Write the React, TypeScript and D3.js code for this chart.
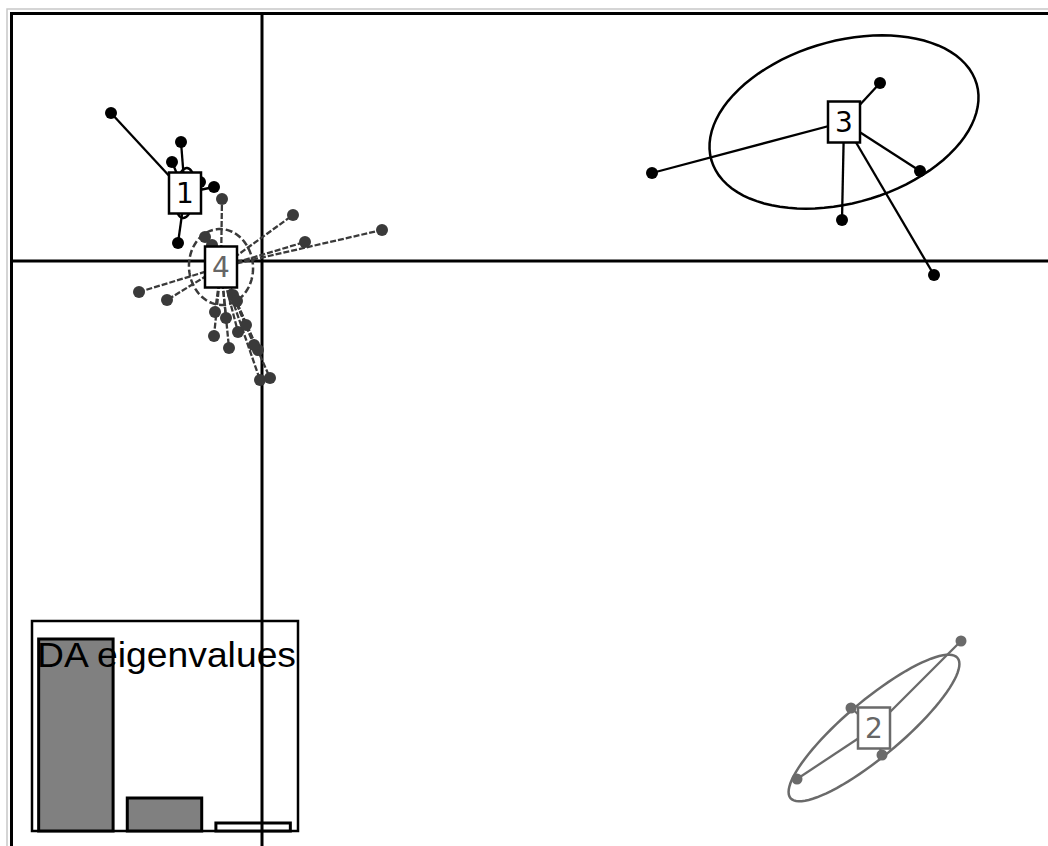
import React from 'react';
import * as d3 from 'd3';

// DAPC scatter: LD1 / LD2 scores per individual, grouped in 4 clusters
const group1 = [
  [-3.02, 2.96], [-1.62, 2.38], [-1.8, 1.98], [-1.68, 0.36],
  [-1.46, 1.48], [-1.24, 1.58], [-0.96, 1.48],
];
const group2 = [
  [13.98, -7.6], [11.78, -8.94], [12.4, -9.88], [10.7, -10.36],
];
const group3 = [
  [12.36, 3.56], [7.8, 1.76], [13.16, 1.8], [11.6, 0.82], [13.44, -0.28],
];
const group4 = [
  [0.62, 0.92], [0.86, 0.38], [2.4, 0.62], [-2.46, -0.62], [-1.9, -0.78],
  [-0.96, -1.5], [-0.66, -1.74], [-0.48, -1.42], [-0.08, -1.78], [-0.04, -2.38],
  [0.16, -2.34], [-0.8, 1.24], [-1.14, 0.48], [-1.0, 0.32], [-0.94, -1.02],
  [-0.72, -1.14], [-0.58, -0.68], [-0.32, -1.28], [-0.16, -1.68], [-0.5, -0.8],
];
const groups = [group1, group2, group3, group4];
const groupNames = ['1', '2', '3', '4'];
// group centroids (label positions)
const centroids = [[-1.54, 1.36], [12.24, -9.34], [11.64, 2.78], [-0.82, -0.12]];
// inertia ellipses: semi-axes (LD units) and angle (degrees)
const ellipseAxes = [[0.5, 0.2], [2.18, 0.56], [2.76, 1.62], [0.64, 0.76]];
const ellipseAngles = [85, 40, 16, 5];
const groupColors = ['#000000', '#6a6a6a', '#000000', '#3a3a3a'];

const eigenvalues = [1024.6, 176.1, 42.7];

const W = 1048;
const H = 846;

const App = () => {
  const x = d3.scaleLinear().domain([-5, 15.7]).range([12, 1047]);
  const y = d3.scaleLinear().domain([5, -12]).range([11, 861]);
  const line = d3.line<number[]>().x((d) => x(d[0])).y((d) => y(d[1]));

  const ellipsePath = (i: number) => {
    const [a, b] = ellipseAxes[i];
    const t = (ellipseAngles[i] * Math.PI) / 180;
    const [cx, cy] = centroids[i];
    const pts = d3.range(0, 361, 4).map((deg) => {
      const u = (deg * Math.PI) / 180;
      const ex = a * Math.cos(u);
      const ey = b * Math.sin(u);
      return [cx + ex * Math.cos(t) - ey * Math.sin(t), cy + ex * Math.sin(t) + ey * Math.cos(t)];
    });
    return line(pts) + 'Z';
  };

  // eigenvalue inset
  const bx = d3.scaleBand<number>().domain(d3.range(eigenvalues.length))
    .range([36, 293]).paddingInner(0.16).paddingOuter(0.03);
  const by = d3.scaleLinear().domain([0, d3.max(eigenvalues)!]).range([831, 639]);

  const order = [3, 0, 2, 1];

  return (
    <div style={{ position: 'absolute', left: 0, top: 0 }}>
      <svg width={W} height={H} style={{ display: 'block', background: '#fff' }}>
        <rect x={7} y={9} width={W} height={H} fill="none" stroke="#c8c8c8" strokeWidth={1.5} />
        <rect x={11.5} y={13.5} width={W} height={H} fill="none" stroke="#000" strokeWidth={3} />

        {/* eigenvalue inset */}
        <g>
          <rect x={32} y={621} width={266} height={210} fill="#fff" stroke="#000" strokeWidth={2.5} />
          {eigenvalues.map((v, i) => (
            <rect key={i} x={bx(i)} y={by(v)} width={bx.bandwidth()} height={831 - by(v)}
              fill={i === eigenvalues.length - 1 ? '#fff' : '#808080'} stroke="#000" strokeWidth={3} />
          ))}
          <text x={37} y={667} fontFamily="Liberation Sans, Arial, sans-serif" fontSize={35}
            textLength={259} lengthAdjust="spacingAndGlyphs" fill="#000">DA eigenvalues</text>
        </g>

        {/* axes through origin */}
        <line x1={x(0)} x2={x(0)} y1={13} y2={H} stroke="#000" strokeWidth={3} />
        <line x1={11} x2={W} y1={y(0)} y2={y(0)} stroke="#000" strokeWidth={3} />

        {order.map((g) => (
          <g key={'e' + g}>
            <path d={ellipsePath(g)} fill="none" stroke={groupColors[g]} strokeWidth={2.5}
              strokeDasharray={g === 3 ? '7,3' : undefined} />
            {groups[g].map((p, j) => (
              <line key={j} x1={x(centroids[g][0])} y1={y(centroids[g][1])} x2={x(p[0])} y2={y(p[1])}
                stroke={groupColors[g]} strokeWidth={2.3} strokeDasharray={g === 3 ? '6,2' : undefined} />
            ))}
            {groups[g].map((p, j) => (
              <circle key={'c' + j} cx={x(p[0])} cy={y(p[1])} r={g === 1 ? 5.5 : 6} fill={groupColors[g]} />
            ))}
          </g>
        ))}

        {order.map((g) => (
          <g key={'l' + g} transform={`translate(${x(centroids[g][0])},${y(centroids[g][1])})`}>
            <rect x={-16} y={-20.5} width={32} height={41} fill="#fff"
              stroke={g === 1 ? '#6a6a6a' : '#000'} strokeWidth={2.5} />
            <text textAnchor="middle" dy="0.36em" fontFamily="DejaVu Sans, sans-serif" fontSize={28}
              fill={g === 1 || g === 3 ? '#666' : '#000'}>{groupNames[g]}</text>
          </g>
        ))}
      </svg>
    </div>
  );
};

export default App;
